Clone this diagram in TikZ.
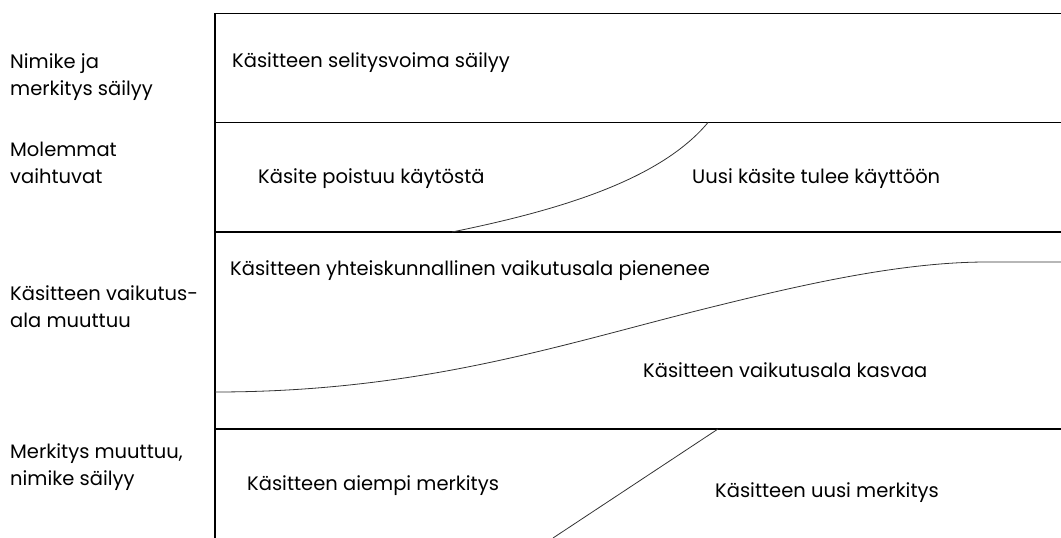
\documentclass[tikz,border=0pt]{standalone}
\usepackage{fontspec}
\setmainfont{Poppins}
\begin{document}
\begin{tikzpicture}[x=1pt,y=-1pt,
  frame/.style={line width=1.8pt},
  trend/.style={line width=0.8pt, black!80},
  lbl/.style={inner sep=0pt, anchor=base west, font=\fontsize{19.5}{26.5}\selectfont},
  side/.style={lbl, align=left}]
\useasboundingbox (0,0) rectangle (1061,538);
% frame coordinates
\coordinate (tl) at (215,13.5);
\coordinate (tr) at (1061,13.5);
\coordinate (bl) at (215,538);
\coordinate (a1) at (215,122.5);
\coordinate (a2) at (1061,122.5);
\coordinate (b1) at (215,232);
\coordinate (b2) at (1061,232);
\coordinate (c1) at (215,429);
\coordinate (c2) at (1061,429);
\draw[frame] (bl) -- (tl) -- (tr);
\draw[frame] (a1) -- (a2);
\draw[frame] (b1) -- (b2);
\draw[frame] (c1) -- (c2);
% curves
\coordinate (p0) at (452,232);
\coordinate (p1) at (708,122.5);
\draw[trend] (p0) .. controls (560,210) and (660,180) .. (p1);
\coordinate (r0) at (215,392);
\coordinate (rm) at (700,310);
\coordinate (r1) at (987,262);
\coordinate (r2) at (1061,262);
\draw[trend] (r0) .. controls (420,392) and (560,345) .. (rm)
  .. controls (800,285) and (900,262) .. (r1) -- (r2);
\coordinate (q0) at (718,429);
\coordinate (q1) at (553,538);
\draw[trend] (q0) -- (q1);
% side labels
\node[side] (s1) at (10,95) {Nimike ja\\merkitys säilyy};
\node[side] (s2) at (10,183) {Molemmat\\vaihtuvat};
\node[side] (s3) at (10,327) {Käsitteen vaikutus-\\ala muuttuu};
\node[side] (s4) at (10,485) {Merkitys muuttuu,\\nimike säilyy};
% content labels
\node[lbl] (t1) at (232,67) {Käsitteen selitysvoima säilyy};
\node[lbl] (t2) at (258,183) {Käsite poistuu käytöstä};
\node[lbl] (t3) at (692,183) {Uusi käsite tulee käyttöön};
\node[lbl] (t4) at (230,275) {Käsitteen yhteiskunnallinen vaikutusala pienenee};
\node[lbl] (t5) at (643,377) {Käsitteen vaikutusala kasvaa};
\node[lbl] (t6) at (247,490) {Käsitteen aiempi merkitys};
\node[lbl] (t7) at (715,497) {Käsitteen uusi merkitys};
\end{tikzpicture}
\end{document}
